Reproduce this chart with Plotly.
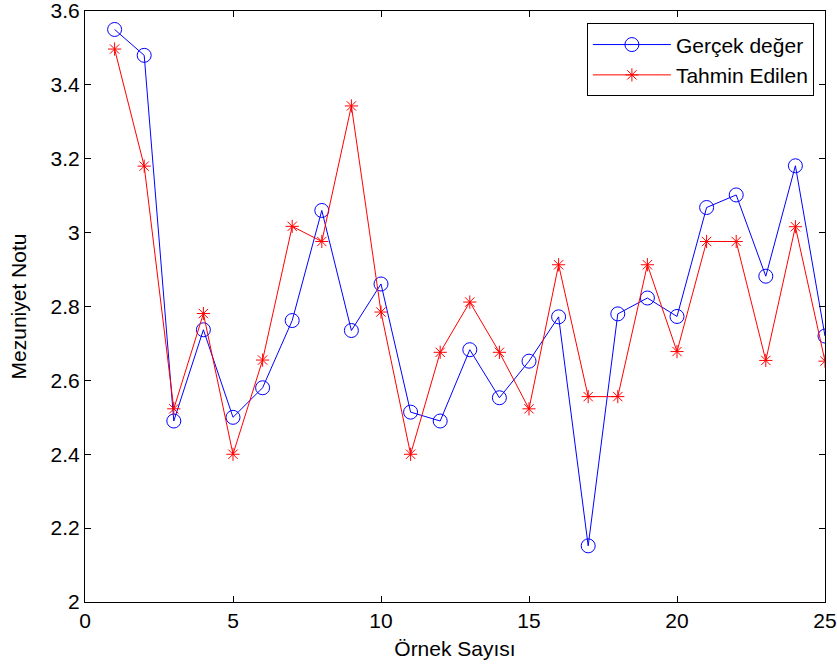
import plotly.graph_objects as go

samples = list(range(1, 26))
gercek = [3.55, 3.48, 2.49, 2.737, 2.50, 2.58, 2.762, 3.06, 2.735, 2.861,
          2.514, 2.49, 2.683, 2.553, 2.652, 2.772, 2.152, 2.78, 2.823, 2.773,
          3.068, 3.102, 2.882, 3.181, 2.72]
tahmin = [3.497, 3.18, 2.523, 2.781, 2.40, 2.655, 3.017, 2.976, 3.343, 2.785,
          2.40, 2.676, 2.812, 2.676, 2.523, 2.913, 2.556, 2.556, 2.913, 2.678,
          2.976, 2.976, 2.654, 3.016, 2.652]
x_ticks = [0, 5, 10, 15, 20, 25]
y_ticks = [2, 2.2, 2.4, 2.6, 2.8, 3, 3.2, 3.4, 3.6]
y_ticklabels = ["2", "2.2", "2.4", "2.6", "2.8", "3", "3.2", "3.4", "3.6"]

font_family = "Liberation Sans, Arial, sans-serif"
fs = 21

fig = go.Figure()
fig.add_trace(go.Scatter(
    x=samples, y=gercek, mode="lines+markers", name="Gerçek değer",
    line=dict(color="#0000ff", width=1),
    marker=dict(symbol="circle-open", size=14, color="#0000ff", line=dict(width=1)),
))
fig.add_trace(go.Scatter(
    x=samples, y=tahmin, mode="lines+markers", name="Tahmin Edilen",
    line=dict(color="#ff0000", width=1),
    marker=dict(symbol="asterisk-open", size=11, color="#ff0000", line=dict(width=1, color="#ff0000")),
))

axis_common = dict(
    showline=True, linecolor="black", linewidth=1, mirror="ticks",
    ticks="inside", ticklen=6, tickcolor="black", showgrid=False, zeroline=False,
    automargin=False, ticklabeloverflow="allow",
    tickfont=dict(family=font_family, size=fs, color="black"),
)
fig.update_xaxes(range=[0, 25], tickvals=x_ticks,
                 title=dict(text="Örnek Sayısı", font=dict(family=font_family, size=fs, color="black"), standoff=10),
                 **axis_common)
fig.update_yaxes(range=[2, 3.6], tickvals=y_ticks, ticktext=y_ticklabels,
                 title=dict(text="Mezuniyet Notu", font=dict(family=font_family, size=fs, color="black"), standoff=18),
                 **axis_common)

fig.update_layout(
    width=837, height=666,
    margin=dict(l=85, r=12, t=11, b=64),
    plot_bgcolor="white", paper_bgcolor="white",
    font=dict(family=font_family, size=fs, color="black"),
    showlegend=True,
    legend=dict(x=0.985, y=0.979, xanchor="right", yanchor="top",
                bordercolor="black", borderwidth=1, bgcolor="white",
                font=dict(family=font_family, size=fs, color="black"),
                itemwidth=78, tracegroupgap=0),
)

fig.write_html("out.html", config={"displayModeBar": False},
               post_script="document.body.style.margin='0';document.body.style.padding='0';")
